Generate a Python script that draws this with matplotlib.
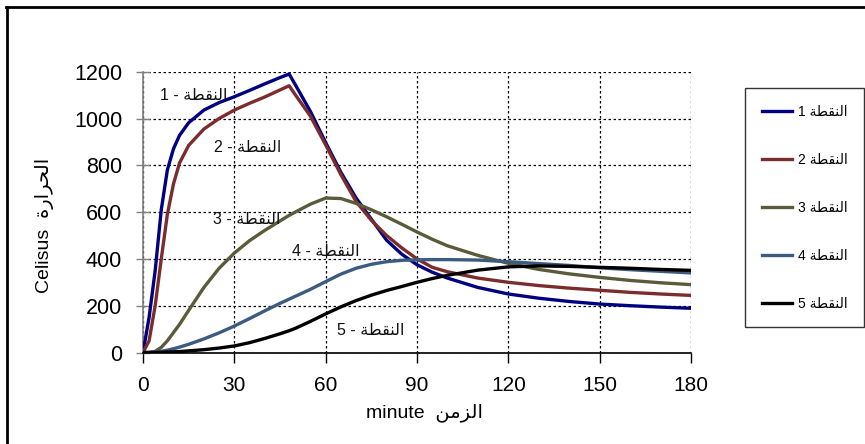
import matplotlib
matplotlib.use("Agg")
import matplotlib.pyplot as plt
from matplotlib.lines import Line2D

# Arabic words in presentation forms, stored in left-to-right visual order
AR_POINT = "\uFE94\uFEC4\uFED8\uFEE8\uFEDF\uFE8D"        # النقطة
AR_TIME = "\uFEE6\uFEE3\uFEB0\uFEDF\uFE8D"               # الزمن
AR_TEMP = "\uFE93\uFEAD\uFE8D\uFEAE\uFEA4\uFEDF\uFE8D"   # الحرارة

minutes = [0, 2, 4, 6, 8, 10, 12, 15, 20, 25, 30, 35, 40, 45, 48, 50, 55, 60,
           65, 70, 75, 80, 85, 90, 95, 100, 110, 120, 130, 140, 150, 160, 170, 180]

point1 = [0, 150, 350, 610, 780, 870, 928, 982, 1036, 1068, 1093, 1120, 1148, 1175, 1190,
          1145, 1030, 897, 770, 660, 570, 480, 420, 375, 343, 318, 278, 250, 232, 218,
          207, 200, 194, 189]
point2 = [0, 50, 200, 400, 590, 720, 810, 885, 955, 1000, 1036, 1065, 1092, 1122, 1140,
          1102, 1010, 887, 760, 645, 565, 500, 447, 400, 364, 345, 318, 300, 286, 275,
          266, 257, 250, 244]
point3 = [0, 0, 5, 22, 50, 85, 120, 180, 278, 360, 425, 478, 522, 562, 586, 600, 634, 660,
          658, 637, 610, 580, 548, 515, 484, 456, 415, 381, 355, 336, 321, 308, 298, 290]
point4 = [0, 0, 2, 5, 10, 16, 23, 35, 58, 84, 113, 145, 178, 210, 228, 240, 270, 303,
          335, 360, 377, 388, 394, 396, 397, 397, 395, 388, 380, 372, 362, 354, 347, 340]
point5 = [0, 0, 0, 1, 2, 3, 4, 7, 12, 19, 28, 42, 60, 80, 93, 103, 133, 165,
          195, 222, 245, 265, 282, 300, 316, 330, 352, 366, 370, 368, 364, 360, 355, 351]

series = [point1, point2, point3, point4, point5]
series_names = ["1", "2", "3", "4", "5"]
colors = ["#000080", "#7b2d2d", "#5b5a3a", "#3b5b80", "#000000"]

# (minute, value) anchor of each in-plot curve label
label_pos = [(5.6, 1100), (23.3, 878), (22.9, 570), (48.9, 430), (63.7, 96)]

FONT = ["Liberation Sans", "DejaVu Sans"]
plt.rcParams["font.family"] = FONT

W, H = 865, 444
fig = plt.figure(figsize=(W / 100, H / 100), dpi=100)
ax = fig.add_axes([143 / W, 1 - 352.5 / H, (691 - 143) / W, (352.5 - 71.7) / H])

for vals, c in zip(series, colors):
    ax.plot(minutes, vals, color=c, lw=2.4, solid_joinstyle="round",
            solid_capstyle="round", zorder=3)

for name, (tx, ty) in zip(series_names, label_pos):
    ax.text(tx, ty, f"{name} - {AR_POINT}", fontsize=11.5, ha="left", va="center",
            color="#111111", zorder=4)

ax.set_xlim(0, 180)
ax.set_ylim(0, 1200)
ax.set_xticks(range(0, 181, 30))
ax.set_yticks(range(0, 1201, 200))
ax.grid(True, color="black", linestyle=(0, (2, 2)), linewidth=0.9)
ax.set_axisbelow(True)

for side in ("top", "right"):
    ax.spines[side].set_visible(False)
ax.spines["left"].set_color("#808080")
ax.spines["left"].set_linewidth(1.2)
ax.spines["bottom"].set_color("black")
ax.spines["bottom"].set_linewidth(1.2)

ax.tick_params(axis="x", direction="out", length=7, width=1, pad=10,
               labelsize=15, colors="black")
ax.tick_params(axis="y", direction="inout", length=10, width=1, color="#808080",
               pad=10, labelsize=15.5, labelcolor="black")

fig.text(425 / W, 1 - 413 / H, f"minute  {AR_TIME}", fontsize=14,
         ha="center", va="center")
fig.text(45 / W, 1 - 225 / H, f"Celisus  {AR_TEMP}", fontsize=14,
         ha="center", va="center", rotation=90)

handles = [Line2D([], [], color=c, lw=2.4) for c in colors]
labels = [f"{n} {AR_POINT}" for n in series_names]
leg = fig.legend(handles, labels, loc="upper left",
                 bbox_to_anchor=(745 / W, 1 - 88 / H), fontsize=10,
                 frameon=True, fancybox=False, edgecolor="black",
                 handlelength=2.2, handletextpad=0.4, labelspacing=2.45,
                 borderpad=1.2, borderaxespad=0)
leg.get_frame().set_linewidth(1.0)

# outer chart frame (top and left edges)
fig.add_artist(Line2D([6 / W, 1], [1 - 7 / H, 1 - 7 / H], color="black", lw=2,
                      transform=fig.transFigure))
fig.add_artist(Line2D([7 / W, 7 / W], [0, 1 - 7 / H], color="black", lw=2,
                      transform=fig.transFigure))

fig.savefig("out.png", dpi=100, facecolor="white")
